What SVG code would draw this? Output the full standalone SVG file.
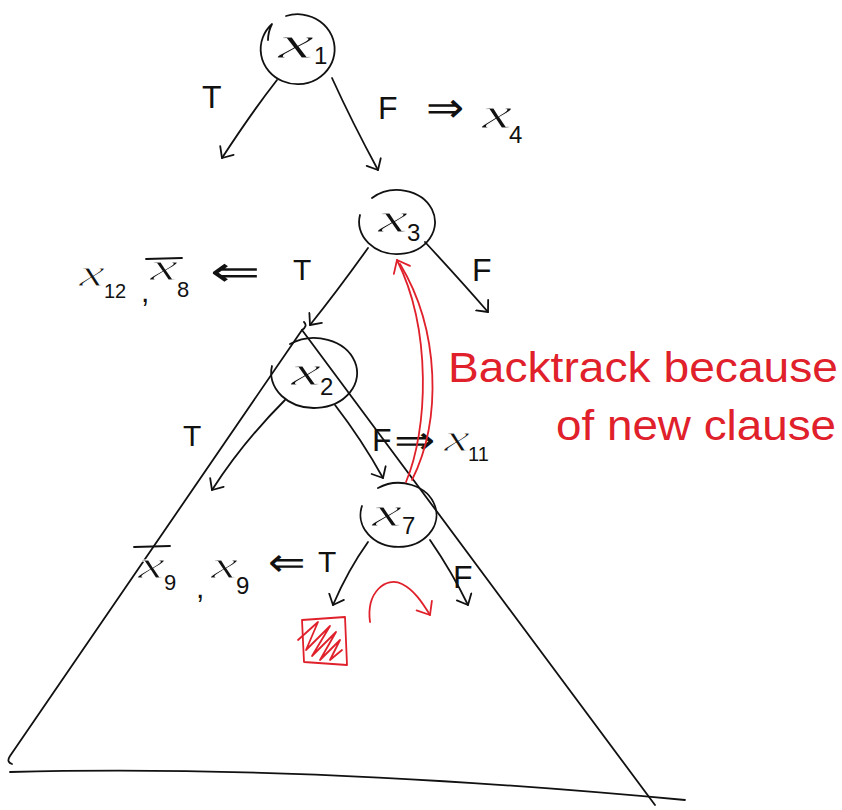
<svg xmlns="http://www.w3.org/2000/svg" width="842" height="810" viewBox="0 0 842 810">
<defs>
<marker id="ah" markerWidth="20" markerHeight="20" refX="10" refY="10" orient="auto" markerUnits="userSpaceOnUse">
<path d="M1,2 L10,10 L1,18" fill="none" stroke="#111" stroke-width="1.8" stroke-linecap="round" stroke-linejoin="round"/>
</marker>
<marker id="ahr" markerWidth="24" markerHeight="24" refX="12" refY="12" orient="auto" markerUnits="userSpaceOnUse">
<path d="M1,3 L12,12 L1,21" fill="none" stroke="#e0202a" stroke-width="1.8" stroke-linecap="round" stroke-linejoin="round"/>
</marker>
</defs>
<style>
.ln{fill:none;stroke:#111;stroke-width:1.8;stroke-linecap:round;stroke-linejoin:round}
.rl{fill:none;stroke:#e0202a;stroke-width:1.8;stroke-linecap:round;stroke-linejoin:round}
.t{font-family:"Liberation Sans",Arial,sans-serif;fill:#111}
.v{font-family:"Liberation Serif","Times New Roman",serif;font-style:italic;fill:#111;stroke:#fff;stroke-width:0.9}
.s{font-family:"Liberation Sans",Arial,sans-serif;fill:#111}
.r{font-family:"Liberation Sans",Arial,sans-serif;fill:#e0202a}
</style>
<rect width="842" height="810" fill="#fff"/>

<g id="tree-outline">
<path class="ln" d="M304,322 Q308,326 302,330 L10,756 Q6,762 12,764"/>
<path class="ln" d="M302,330 L655,805"/>
<path class="ln" d="M10,772 Q300,764 685,800"/>
</g>

<g id="connectors">
<path class="ln" d="M277,80 Q252,112 222,158" marker-end="url(#ah)"/>
<path class="ln" d="M332,78 Q352,122 378,170" marker-end="url(#ah)"/>
<path class="ln" d="M368,248 Q338,290 310,325" marker-end="url(#ah)"/>
<path class="ln" d="M425,242 Q462,282 488,312" marker-end="url(#ah)"/>
<path class="ln" d="M285,400 Q243,442 212,490" marker-end="url(#ah)"/>
<path class="ln" d="M335,405 Q362,440 383,478" marker-end="url(#ah)"/>
<path class="ln" d="M368,542 Q348,570 333,605" marker-end="url(#ah)"/>
<path class="ln" d="M430,540 Q452,572 468,605" marker-end="url(#ah)"/>
</g>

<g id="node-x1">
<path class="ln" d="M286,16 A37,35 0 1 1 272,24 Q268,32 268,40"/>
<text class="v" x="278" y="58" font-size="46" textLength="36" lengthAdjust="spacingAndGlyphs">x</text>
<text class="s" x="314" y="64" font-size="24">1</text>
</g>
<g id="label-x1-T"><text class="t" x="202" y="108" font-size="32">T</text></g>
<g id="label-x1-F">
<text class="t" x="378" y="119" font-size="32">F</text>
<text class="t" x="426" y="122" font-size="42" textLength="38" lengthAdjust="spacingAndGlyphs">⇒</text>
<text class="v" x="482" y="128" font-size="44" textLength="30" lengthAdjust="spacingAndGlyphs">x</text>
<text class="s" x="509" y="143" font-size="24">4</text>
</g>

<g id="node-x3">
<path class="ln" d="M372,198 A38,32 0 1 1 360,215"/>
<text class="v" x="378" y="232" font-size="42" textLength="30" lengthAdjust="spacingAndGlyphs">x</text>
<text class="s" x="407" y="241" font-size="24">3</text>
</g>
<g id="label-x3-T">
<text class="v" x="79" y="286" font-size="38" textLength="26" lengthAdjust="spacingAndGlyphs">x</text>
<text class="s" x="104" y="298" font-size="20">12</text>
<text class="t" x="141" y="302" font-size="30">,</text>
<line class="ln" x1="146" y1="259" x2="182" y2="258"/>
<text class="v" x="150" y="280" font-size="38" textLength="28" lengthAdjust="spacingAndGlyphs">x</text>
<text class="s" x="177" y="297" font-size="22">8</text>
<text class="t" x="210" y="286" font-size="42" textLength="50" lengthAdjust="spacingAndGlyphs">⇐</text>
<text class="t" x="293" y="280" font-size="30">T</text>
</g>
<g id="label-x3-F"><text class="t" x="472" y="281" font-size="32">F</text></g>

<g id="node-x2">
<path class="ln" d="M290,344 A43,35 0 1 1 272,366"/>
<text class="v" x="291" y="385" font-size="42" textLength="30" lengthAdjust="spacingAndGlyphs">x</text>
<text class="s" x="320" y="395" font-size="24">2</text>
</g>
<g id="label-x2-T"><text class="t" x="183" y="446" font-size="30">T</text></g>
<g id="label-x2-F">
<text class="t" x="372" y="451" font-size="32">F</text>
<text class="t" x="394" y="454" font-size="40" textLength="42" lengthAdjust="spacingAndGlyphs">⇒</text>
<text class="v" x="444" y="451" font-size="38" textLength="26" lengthAdjust="spacingAndGlyphs">x</text>
<text class="s" x="468" y="461" font-size="20">11</text>
</g>

<g id="node-x7">
<path class="ln" d="M378,488 A38,32 0 1 1 362,506"/>
<text class="v" x="372" y="526" font-size="42" textLength="30" lengthAdjust="spacingAndGlyphs">x</text>
<text class="s" x="402" y="534" font-size="24">7</text>
</g>
<g id="label-x7-T">
<line class="ln" x1="134" y1="547" x2="170" y2="546"/>
<text class="v" x="138" y="578" font-size="38" textLength="27" lengthAdjust="spacingAndGlyphs">x</text>
<text class="s" x="164" y="590" font-size="22">9</text>
<text class="t" x="196" y="598" font-size="30">,</text>
<text class="v" x="211" y="578" font-size="38" textLength="27" lengthAdjust="spacingAndGlyphs">x</text>
<text class="s" x="236" y="594" font-size="24">9</text>
<text class="t" x="268" y="576" font-size="40" textLength="38" lengthAdjust="spacingAndGlyphs">⇐</text>
<text class="t" x="318" y="572" font-size="30">T</text>
</g>
<g id="label-x7-F"><text class="t" x="453" y="588" font-size="32">F</text></g>

<g id="conflict">
<path class="rl" d="M302,620 L345,617 L347,665 L304,662 Z"/>
<path class="rl" d="M298,640 L318,622 L306,650 L330,626 L312,656 L336,632 L320,660 L340,640 L330,660 L342,650"/>
</g>
<g id="flip-arrow">
<path class="rl" d="M370,622 C366,592 386,576 402,584 C414,590 422,602 430,615" marker-end="url(#ahr)"/>
</g>
<g id="backtrack-arrow">
<path class="rl" d="M406,482 C428,430 432,330 397,260" marker-end="url(#ahr)"/>
<path class="rl" d="M412,480 C442,420 440,330 400,264"/>
</g>
<g id="note">
<text class="r" x="448" y="382" font-size="42" textLength="390" lengthAdjust="spacingAndGlyphs">Backtrack because</text>
<text class="r" x="556" y="440" font-size="42" textLength="280" lengthAdjust="spacingAndGlyphs">of new clause</text>
</g>
</svg>
